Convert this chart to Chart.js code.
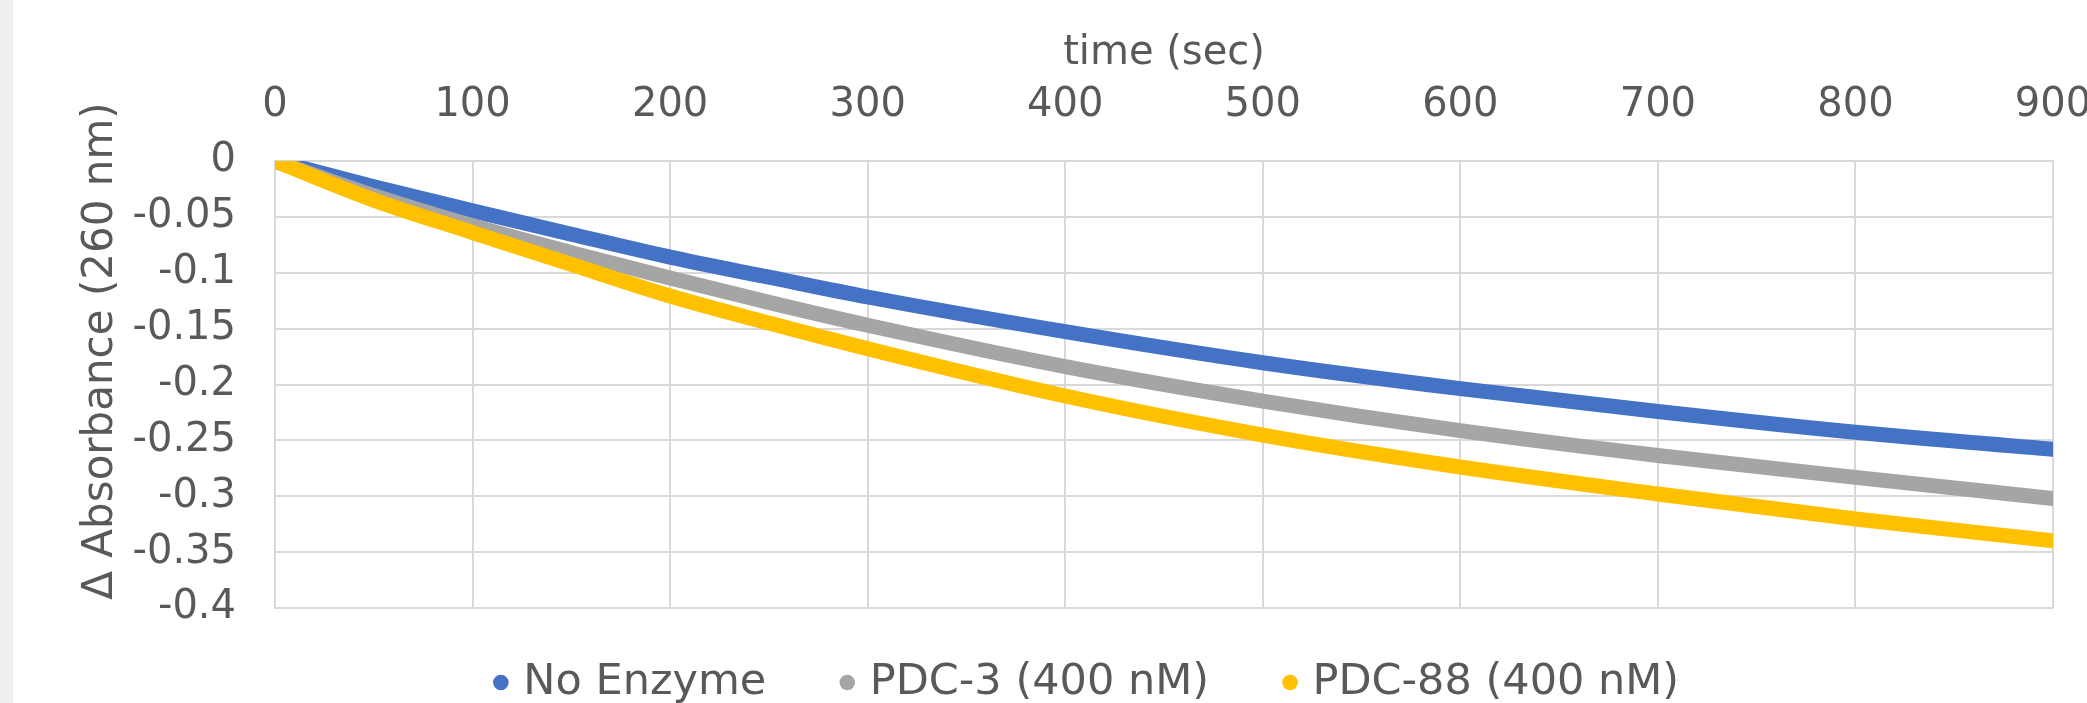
<!DOCTYPE html>
<html>
<head>
<meta charset="utf-8">
<script src="https://cdn.jsdelivr.net/npm/chart.js@4"></script>
<style>
  html, body { margin: 0; padding: 0; background: #ffffff; }
  canvas { display: block; }
</style>
</head>
<body>
<canvas id="chart" width="2087" height="703"></canvas>
<script>
// values
const times = [0, 50, 100, 150, 200, 250, 300, 400, 500, 600, 700, 800, 900];
const noEnzyme = [0, -0.023, -0.0445, -0.0655, -0.086, -0.104, -0.1217, -0.1527, -0.1805, -0.2037, -0.2242, -0.2428, -0.258];
const pdc3 = [0, -0.031, -0.058, -0.082, -0.1047, -0.1265, -0.147, -0.184, -0.2148, -0.2413, -0.2635, -0.2831, -0.302];
const pdc88 = [0, -0.035, -0.064, -0.0925, -0.1208, -0.145, -0.168, -0.2103, -0.2452, -0.2738, -0.298, -0.3204, -0.3398];

const seriesNames = ["No Enzyme", "PDC-3 (400 nM)", "PDC-88 (400 nM)"];
const seriesValues = [noEnzyme, pdc3, pdc88];
const seriesColors = ["#4472C4", "#A5A5A5", "#FFC000"];

const xTitle = "time (sec)";
const yTitle = "Δ Absorbance (260 nm)";

const textColor = "#595959";
const gridColor = "#d9d9d9";
const fontFamily = "'DejaVu Sans', sans-serif";

const background = { // white page with the grey strip on the left
	id: "background",
	beforeDraw: (chart) => {
		const { ctx } = chart;
		ctx.save();
		ctx.fillStyle = "#ffffff";
		ctx.fillRect(0, 0, chart.width, chart.height);
		ctx.fillStyle = "#efefef";
		ctx.fillRect(0, 0, 13, chart.height);
		ctx.restore();
	},
};

const yAxisTitle = { // excel puts it a bit above the plot centre
	id: "yAxisTitle",
	afterDraw: (chart) => {
		const { ctx } = chart;
		ctx.save();
		ctx.translate(101, 351);
		ctx.rotate(-Math.PI / 2);
		ctx.font = "42px " + fontFamily;
		ctx.fillStyle = textColor;
		ctx.textAlign = "center";
		ctx.textBaseline = "middle";
		ctx.fillText(yTitle, 0, 0);
		ctx.restore();
	},
};

const legendNudge = { // wide gaps between items but legend sits close under the plot
	id: "legendNudge",
	afterLayout: (chart) => {
		const lg = chart.legend;
		lg.top -= 27;
		lg.bottom = chart.height;
		lg.left += 63;
		lg.right += 63;
	},
};

new Chart(document.getElementById("chart"), {
	type: "line",
	data: {
		datasets: seriesNames.map((name, i) => ({
			label: name,
			data: times.map((t, j) => ({ x: t, y: seriesValues[i][j] })),
			borderColor: seriesColors[i],
			backgroundColor: seriesColors[i],
			borderWidth: 15,
			borderCapStyle: "round",
			borderJoinStyle: "round",
			pointRadius: 0,
			pointHoverRadius: 0,
			pointBorderWidth: 0,
			cubicInterpolationMode: "monotone",
			order: seriesNames.length - i,
		})),
	},
	options: {
		responsive: false,
		animation: false,
		devicePixelRatio: 1,
		locale: "en-US",
		layout: { padding: { left: 0, right: 34, top: 0, bottom: 0 } },
		plugins: {
			legend: {
				position: "bottom",
				maxHeight: 95,
				labels: {
					usePointStyle: true,
					pointStyle: "circle",
					boxWidth: 2,
					boxHeight: 11,
					padding: 80,
					color: textColor,
					font: { family: fontFamily, size: 43 },
					sort: (a, b) => a.datasetIndex - b.datasetIndex,
				},
			},
			tooltip: { enabled: false },
		},
		scales: {
			x: {
				type: "linear",
				position: "top",
				min: 0,
				max: 900,
				ticks: {
					stepSize: 100,
					padding: 31,
					color: textColor,
					font: { family: fontFamily, size: 40 },
				},
				grid: { color: gridColor, lineWidth: 2, drawTicks: false },
				border: { color: gridColor, width: 2 },
				title: {
					display: true,
					text: xTitle,
					color: textColor,
					font: { family: fontFamily, size: 40 },
					padding: { top: 30, bottom: 0 },
				},
				afterFit: (scale) => {
					scale.height = 161;
					scale.paddingLeft = 0;
					scale.paddingRight = 0;
				},
			},
			y: {
				min: -0.4,
				max: 0,
				ticks: {
					stepSize: 0.05,
					padding: 39,
					color: textColor,
					font: { family: fontFamily, size: 40 },
					callback: (v) => String(Math.round(v * 100) / 100),
				},
				grid: { color: gridColor, lineWidth: 2, drawTicks: false },
				border: { color: gridColor, width: 2 },
				afterFit: (scale) => {
					scale.width = 275;
				},
			},
		},
	},
	plugins: [background, yAxisTitle, legendNudge],
});
</script>
</body>
</html>
